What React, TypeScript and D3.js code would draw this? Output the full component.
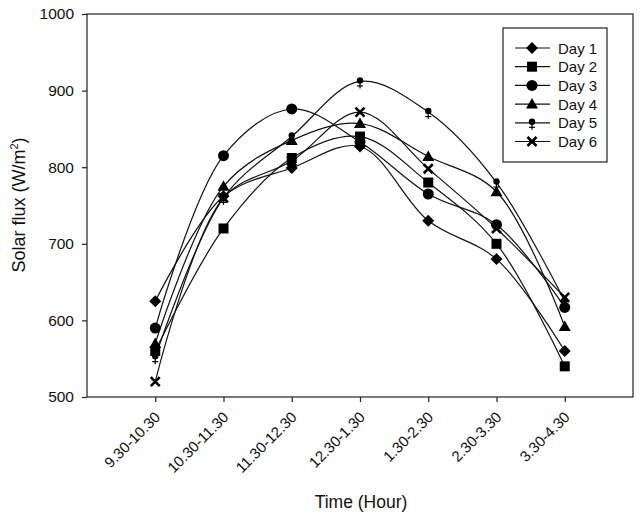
import React, { useEffect, useRef } from 'react';
import * as d3 from 'd3';

const categories = ['9.30-10.30', '10.30-11.30', '11.30-12.30', '12.30-1.30', '1.30-2.30', '2.30-3.30', '3.30-4.30'];
const seriesNames = ['Day 1', 'Day 2', 'Day 3', 'Day 4', 'Day 5', 'Day 6'];
const day1 = [625, 762, 799, 827, 730, 680, 560];
const day2 = [560, 720, 812, 840, 780, 700, 540];
const day3 = [590, 815, 876, 833, 765, 725, 617];
const day4 = [570, 775, 835, 857, 814, 768, 592];
const day5 = [552, 760, 840, 912, 872, 780, 625];
const day6 = [520, 760, 808, 872, 798, 720, 630];
const yTicks = [500, 600, 700, 800, 900, 1000];

const markerTypes = ['diamond', 'square', 'circle', 'triangle', 'pin', 'cross'];

const drawMarker = (g: d3.Selection<SVGGElement, unknown, null, undefined>, type: string) => {
  if (type === 'diamond') {
    g.append('path').attr('d', 'M0,-6L6,0L0,6L-6,0Z').attr('fill', '#000');
  } else if (type === 'square') {
    g.append('rect').attr('x', -5).attr('y', -5).attr('width', 10).attr('height', 10).attr('fill', '#000');
  } else if (type === 'circle') {
    g.append('circle').attr('r', 5.5).attr('fill', '#000');
  } else if (type === 'triangle') {
    g.append('path').attr('d', 'M0,-6L6,4.5L-6,4.5Z').attr('fill', '#000');
  } else if (type === 'pin') {
    g.append('circle').attr('cy', -1).attr('r', 3.2).attr('fill', '#000');
    g.append('line').attr('x1', 0).attr('x2', 0).attr('y1', 0).attr('y2', 7).attr('stroke', '#000').attr('stroke-width', 1.2);
    g.append('line').attr('x1', -3).attr('x2', 3).attr('y1', 4.5).attr('y2', 4.5).attr('stroke', '#000').attr('stroke-width', 1.2);
  } else {
    g.append('path').attr('d', 'M-4.5,-4.5L4.5,4.5M-4.5,4.5L4.5,-4.5').attr('stroke', '#000').attr('stroke-width', 2.6);
  }
};

const App: React.FC = () => {
  const chartRef = useRef<SVGSVGElement | null>(null);

  useEffect(() => {
    if (!chartRef.current) return;
    const svg = d3.select(chartRef.current);
    svg.selectAll('*').remove();

    const left = 87, right = 633, top = 14, bottom = 397;
    const series = [day1, day2, day3, day4, day5, day6];

    const x = d3.scaleLinear().domain([-1, 7]).range([left, right]);
    const y = d3.scaleLinear().domain([500, 1000]).range([bottom, top]);
    const font = 'Liberation Sans, Arial, sans-serif';

    // frame
    svg.append('rect')
      .attr('x', left).attr('y', top)
      .attr('width', right - left).attr('height', bottom - top)
      .attr('fill', 'none').attr('stroke', '#222').attr('stroke-width', 1.2);

    // x axis
    const xAxis = svg.append('g')
      .attr('transform', `translate(0,${bottom})`)
      .call(d3.axisBottom(x).tickValues(d3.range(categories.length)).tickSize(5).tickFormat(() => ''));
    xAxis.select('.domain').remove();
    xAxis.selectAll('line').attr('stroke', '#222').attr('stroke-width', 1.2);

    svg.append('g').selectAll('text')
      .data(categories)
      .enter().append('text')
      .attr('transform', (_d, i) => `translate(${x(i) + 6},${bottom + 21}) rotate(-45)`)
      .attr('text-anchor', 'end')
      .attr('font-family', font)
      .attr('font-size', 15)
      .attr('fill', '#111')
      .text(d => d);

    // y axis
    const yAxis = svg.append('g')
      .attr('transform', `translate(${left},0)`)
      .call(d3.axisLeft(y).tickValues(yTicks).tickSize(5).tickPadding(8).tickFormat(d3.format('d')));
    yAxis.select('.domain').remove();
    yAxis.selectAll('line').attr('stroke', '#222').attr('stroke-width', 1.2);
    yAxis.selectAll('text').attr('font-family', font).attr('font-size', 15.5).attr('fill', '#111');

    // axis titles
    svg.append('text')
      .attr('x', 361).attr('y', 508)
      .attr('text-anchor', 'middle')
      .attr('font-family', font).attr('font-size', 17.5).attr('fill', '#111')
      .text('Time (Hour)');

    const yTitle = svg.append('text')
      .attr('transform', `translate(25,205) rotate(-90)`)
      .attr('text-anchor', 'middle')
      .attr('font-family', font).attr('font-size', 18).attr('fill', '#111');
    yTitle.append('tspan').text('Solar flux (W/m');
    yTitle.append('tspan').attr('dy', -7).attr('font-size', 11).text('2');
    yTitle.append('tspan').attr('dy', 7).text(')');

    // lines
    const line = d3.line<number>()
      .x((_d, i) => x(i))
      .y(d => y(d))
      .curve(d3.curveCatmullRom.alpha(0.5));

    series.forEach((values) => {
      svg.append('path')
        .datum(values)
        .attr('d', line)
        .attr('fill', 'none')
        .attr('stroke', '#111')
        .attr('stroke-width', 1.2);
    });

    series.forEach((values, s) => {
      values.forEach((v, i) => {
        const g = svg.append('g').attr('transform', `translate(${x(i)},${y(v)})`);
        drawMarker(g, markerTypes[s]);
      });
    });

    // legend
    const legend = svg.append('g');
    legend.append('rect')
      .attr('x', 503).attr('y', 28).attr('width', 104).attr('height', 134)
      .attr('fill', '#fff').attr('stroke', '#222').attr('stroke-width', 1.2);
    seriesNames.forEach((name, s) => {
      const ly = 48 + s * 18.7;
      legend.append('line')
        .attr('x1', 515).attr('x2', 550).attr('y1', ly).attr('y2', ly)
        .attr('stroke', '#111').attr('stroke-width', 1.2);
      const g = legend.append('g').attr('transform', `translate(532,${ly})`);
      drawMarker(g, markerTypes[s]);
      legend.append('text')
        .attr('x', 558).attr('y', ly + 5.5)
        .attr('font-family', font).attr('font-size', 15).attr('fill', '#111')
        .text(name);
    });
  }, []);

  return (
    <div style={{ position: 'absolute', left: 0, top: 0 }}>
      <svg ref={chartRef} width="640" height="517" style={{ display: 'block', background: '#fff' }}></svg>
    </div>
  );
};

export default App;
